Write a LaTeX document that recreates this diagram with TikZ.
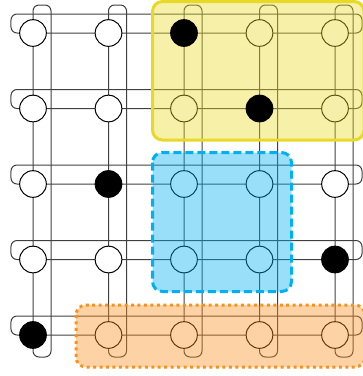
\documentclass[tikz,border=0pt]{standalone}
\definecolor{gridline}{RGB}{64,64,64}
\definecolor{patchyellow}{RGB}{232,217,40}
\definecolor{patchblue}{RGB}{0,176,240}
\definecolor{patchorange}{RGB}{250,145,30}
\tikzset{every picture/.style={line width=0.75pt}}

\begin{document}
\begin{tikzpicture}[x=0.75pt,y=0.75pt,yscale=-1,xscale=1,
  site/.style={circle,draw=black,fill=white,inner sep=0pt,minimum size=20pt},
  hole/.style={site,fill=black},
  loopline/.style={draw=gridline,rounded corners=4.5pt},
  patch/.style={line width=2.25pt,rounded corners=7.5pt}]
\useasboundingbox (0,0) rectangle (363,376);

%Row loops
\draw [loopline] (11,14) rectangle (362,33) ;
\draw [loopline] (11,89.5) rectangle (362,108.5) ;
\draw [loopline] (11,165) rectangle (362,184) ;
\draw [loopline] (11,240.5) rectangle (362,259.5) ;
\draw [loopline] (11,316) rectangle (362,335) ;

%Column loops
\draw [loopline] (33,5) rectangle (51,357) ;
\draw [loopline] (108.5,5) rectangle (126.5,357) ;
\draw [loopline] (184,5) rectangle (202,357) ;
\draw [loopline] (259.5,5) rectangle (277.5,357) ;
\draw [loopline] (335,5) rectangle (353,357) ;

%Sites
\node [site] (s11) at (33,33) {};
\node [site] (s12) at (108.5,33) {};
\node [site] (s14) at (259.5,33) {};
\node [site] (s15) at (335,33) {};
\node [site] (s21) at (33,108.5) {};
\node [site] (s22) at (108.5,108.5) {};
\node [site] (s23) at (184,108.5) {};
\node [site] (s25) at (335,108.5) {};
\node [site] (s31) at (33,184) {};
\node [site] (s33) at (184,184) {};
\node [site] (s34) at (259.5,184) {};
\node [site] (s35) at (335,184) {};
\node [site] (s41) at (33,259.5) {};
\node [site] (s42) at (108.5,259.5) {};
\node [site] (s43) at (184,259.5) {};
\node [site] (s44) at (259.5,259.5) {};
\node [site] (s52) at (108.5,335) {};
\node [site] (s53) at (184,335) {};
\node [site] (s54) at (259.5,335) {};
\node [site] (s55) at (335,335) {};

%Shape: Rounded Rect (yellow)
\fill [patchyellow,fill opacity=0.4,rounded corners=7.5pt] (152.5,1.5) rectangle (364,140) ;
\draw [patch,draw=patchyellow] (152.5,1.5) rectangle (364,140) ;

%Shape: Rounded Rect (blue)
\fill [patchblue,fill opacity=0.4,rounded corners=7.5pt] (152.5,152.5) rectangle (291.5,291.5) ;
\draw [patch,draw=patchblue,dash pattern=on 6pt off 3pt] (152.5,152.5) rectangle (291.5,291.5) ;

%Shape: Rounded Rect (orange)
\fill [patchorange,fill opacity=0.4,rounded corners=7.5pt] (76,305) rectangle (365,367) ;
\draw [patch,draw=patchorange,dash pattern=on 2.25pt off 2.6pt] (76,305) rectangle (365,367) ;

%Filled sites
\node [hole] (s13) at (184,33) {};
\node [hole] (s24) at (259.5,108.5) {};
\node [hole] (s32) at (108.5,184) {};
\node [hole] (s45) at (335,259.5) {};
\node [hole] (s51) at (33,335) {};

\end{tikzpicture}
\end{document}
